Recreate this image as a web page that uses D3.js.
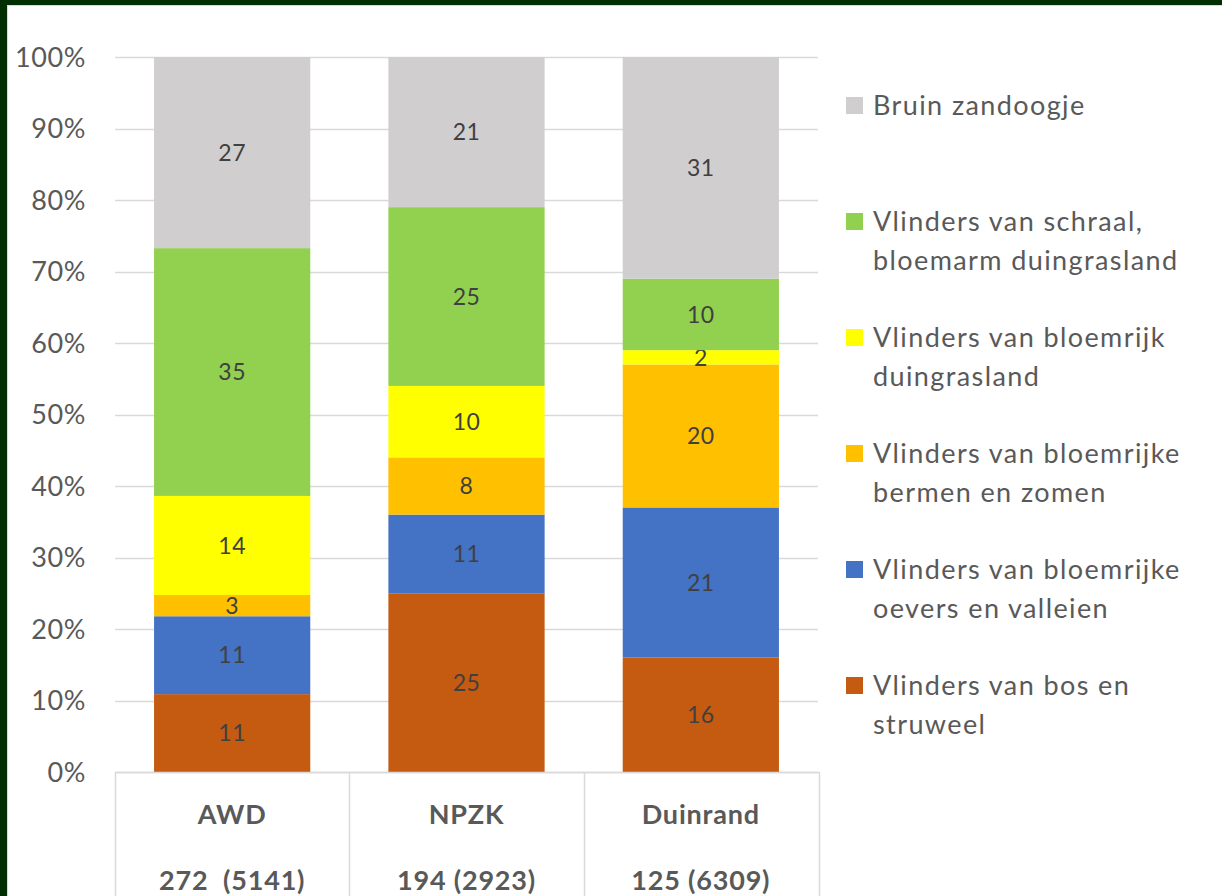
<!DOCTYPE html>
<html lang="nl">
  <head>
    <meta charset="UTF-8" />
    <title>Vlindergroepen</title>
    <script src="https://d3js.org/d3.v7.min.js"></script>
    <style>
      body { margin: 0; background: #012e02; }
      svg { display: block; }
      text { font-family: Lato, "Open Sans", sans-serif; }
    </style>
  </head>
  <body>
    <script>
      // categories + two-line table labels
      const areas = ["AWD", "NPZK", "Duinrand"];
      const areaCounts = ["272  (5141)", "194 (2923)", "125 (6309)"];

      // series, bottom to top
      const groups = [
        "Vlinders van bos en struweel",
        "Vlinders van bloemrijke oevers en valleien",
        "Vlinders van bloemrijke bermen en zomen",
        "Vlinders van bloemrijk duingrasland",
        "Vlinders van schraal, bloemarm duingrasland",
        "Bruin zandoogje"
      ];
      const colors = ["#c55a11", "#4472c4", "#ffc000", "#ffff00", "#92d050", "#d0cece"];

      // values per area, same order as groups
      const awd = [11, 11, 3, 14, 35, 27];
      const npzk = [25, 11, 8, 10, 25, 21];
      const duinrand = [16, 21, 20, 2, 10, 31];

      const yTicks = [0, 0.1, 0.2, 0.3, 0.4, 0.5, 0.6, 0.7, 0.8, 0.9, 1];

      const width = 1222;
      const height = 896;
      const plot = { left: 115, right: 818, top: 57, bottom: 772 };

      const svg = d3.select("body").append("svg")
        .attr("width", width)
        .attr("height", height);

      // white panel
      svg.append("rect")
        .attr("x", 7.5).attr("y", 5.5)
        .attr("width", width + 10).attr("height", height + 10)
        .attr("fill", "#fff")
        .attr("stroke", "#d9d9d9");

      const rows = [awd, npzk, duinrand].map((vals, i) => {
        const total = d3.sum(vals);
        const r = { area: areas[i] };
        groups.forEach((g, j) => { r[g] = vals[j] / total; r[g + "_raw"] = vals[j]; });
        return r;
      });

      const stack = d3.stack().keys(groups);
      const series = stack(rows);

      const x = d3.scaleBand()
        .domain(areas)
        .range([plot.left, plot.right])
        .paddingInner(1 / 3)
        .paddingOuter(1 / 6);

      const y = d3.scaleLinear().domain([0, 1]).range([plot.bottom, plot.top]);

      const color = d3.scaleOrdinal().domain(groups).range(colors);

      // gridlines
      svg.append("g")
        .selectAll("line")
        .data(yTicks)
        .join("line")
        .attr("x1", plot.left).attr("x2", plot.right)
        .attr("y1", d => Math.round(y(d)) + 0.5).attr("y2", d => Math.round(y(d)) + 0.5)
        .attr("stroke", "#d9d9d9")
        .attr("stroke-width", 1.5);

      // y axis labels
      svg.append("g")
        .selectAll("text")
        .data(yTicks)
        .join("text")
        .attr("x", 86)
        .attr("y", d => y(d))
        .attr("dy", "0.36em")
        .attr("text-anchor", "end")
        .attr("fill", "#595959")
        .style("font-size", "27px")
        .style("letter-spacing", "0.6px")
        .text(d3.format(".0%"));

      // bars
      const layer = svg.append("g")
        .selectAll("g")
        .data(series)
        .join("g")
        .attr("fill", d => color(d.key));

      layer.selectAll("rect")
        .data(d => d.map(s => Object.assign(s, { key: d.key })))
        .join("rect")
        .attr("x", d => x(d.data.area))
        .attr("width", x.bandwidth())
        .attr("y", d => y(d[1]))
        .attr("height", d => y(d[0]) - y(d[1]));

      layer.selectAll("text")
        .data(d => d)
        .join("text")
        .attr("x", d => x(d.data.area) + x.bandwidth() / 2)
        .attr("y", d => (y(d[0]) + y(d[1])) / 2)
        .attr("dy", "0.36em")
        .attr("text-anchor", "middle")
        .attr("fill", "#404040")
        .style("font-size", "23px")
        .style("letter-spacing", "0.5px")
        .text(d => d.data[d.key + "_raw"]);

      // category table under the axis
      const table = svg.append("g");
      table.append("line")
        .attr("x1", plot.left).attr("x2", plot.right + 1)
        .attr("y1", plot.bottom + 0.5).attr("y2", plot.bottom + 0.5)
        .attr("stroke", "#d9d9d9").attr("stroke-width", 1.5);
      const edges = areas.map(a => x(a) - x.step() * x.paddingInner() / 2).concat([plot.right + 1]);
      table.selectAll(".edge")
        .data(edges)
        .join("line")
        .attr("class", "edge")
        .attr("x1", d => Math.round(d) + 0.5).attr("x2", d => Math.round(d) + 0.5)
        .attr("y1", plot.bottom).attr("y2", height)
        .attr("stroke", "#d9d9d9").attr("stroke-width", 1.5);
      table.selectAll(".cat")
        .data(areas)
        .join("text")
        .attr("class", "cat")
        .attr("x", d => x(d) + x.bandwidth() / 2)
        .attr("y", 824)
        .attr("text-anchor", "middle")
        .attr("fill", "#595959")
        .style("font-size", "27px")
        .style("font-weight", "bold")
        .style("letter-spacing", "0.8px")
        .text(d => d);
      table.selectAll(".cnt")
        .data(areaCounts)
        .join("text")
        .attr("class", "cnt")
        .attr("x", (d, i) => x(areas[i]) + x.bandwidth() / 2)
        .attr("y", 890)
        .attr("text-anchor", "middle")
        .attr("fill", "#595959")
        .style("font-size", "27px")
        .style("font-weight", "bold")
        .style("letter-spacing", "0.8px")
        .style("white-space", "pre")
        .text(d => d);

      // legend, top series first
      const legend = svg.append("g")
        .selectAll("g")
        .data(groups.slice().reverse())
        .join("g")
        .attr("transform", (d, i) => `translate(846, ${105 + i * 116})`);

      legend.append("rect")
        .attr("x", 0).attr("y", -8)
        .attr("width", 17).attr("height", 17)
        .attr("fill", d => color(d));

      legend.append("text")
        .attr("x", 27)
        .attr("y", 0)
        .attr("fill", "#595959")
        .style("font-size", "27px")
        .style("letter-spacing", "1.4px")
        .each(function (d) {
          const t = d3.select(this);
          const words = d.split(" ");
          let line = [];
          let tspan = t.append("tspan").attr("x", 27).attr("dy", "0.36em");
          words.forEach(w => {
            line.push(w);
            tspan.text(line.join(" "));
            if (tspan.node().getComputedTextLength() > 335 && line.length > 1) {
              line.pop();
              tspan.text(line.join(" "));
              line = [w];
              tspan = t.append("tspan").attr("x", 27).attr("dy", "1.45em").text(w);
            }
          });
        });
    </script>
  </body>
</html>
